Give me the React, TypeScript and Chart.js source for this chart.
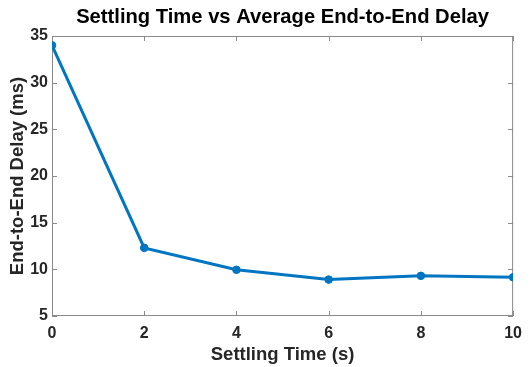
import React, { useEffect, useRef } from "react";
import { Chart, registerables } from "chart.js";

Chart.register(...registerables);

const settlingTimes = [0, 2, 4, 6, 8, 10];
const delays = [34.0, 12.3, 9.95, 8.9, 9.3, 9.15];
const xTicks = [0, 2, 4, 6, 8, 10];
const yTicks = [5, 10, 15, 20, 25, 30, 35];

const AXIS_COLOR = "#8a8a8a";
const TEXT_COLOR = "#262626";
const LINE_COLOR = "#0075C2";
const FONT = "'Liberation Sans', Arial, Helvetica, sans-serif";

const boxTicksPlugin = {
  id: "boxTicks",
  beforeDatasetsDraw(chart: any) {
    const { ctx, chartArea: a, scales } = chart;
    const xs = scales.x;
    const ys = scales.y;
    const len = 5;
    ctx.save();
    ctx.strokeStyle = AXIS_COLOR;
    ctx.lineWidth = 1;
    ctx.strokeRect(a.left + 0.5, a.top + 0.5, a.right - a.left - 1, a.bottom - a.top - 1);
    ctx.beginPath();
    xTicks.forEach((v) => {
      const px = Math.round(xs.getPixelForValue(v)) + 0.5;
      ctx.moveTo(px, a.bottom);
      ctx.lineTo(px, a.bottom - len);
      ctx.moveTo(px, a.top);
      ctx.lineTo(px, a.top + len);
    });
    yTicks.forEach((v) => {
      const py = Math.round(ys.getPixelForValue(v)) + 0.5;
      ctx.moveTo(a.left, py);
      ctx.lineTo(a.left + len, py);
      ctx.moveTo(a.right, py);
      ctx.lineTo(a.right - len, py);
    });
    ctx.stroke();
    ctx.restore();
  },
};

export default function App() {
  const ref = useRef<HTMLCanvasElement | null>(null);
  useEffect(() => {
    document.body.style.margin = "0";
    const canvas = ref.current;
    if (!canvas) return;
    const chart = new Chart(canvas, {
      type: "line",
      data: {
        datasets: [
          {
            data: settlingTimes.map((x, i) => ({ x, y: delays[i] })),
            borderColor: LINE_COLOR,
            backgroundColor: LINE_COLOR,
            borderWidth: 3,
            pointRadius: 3.8,
            pointStyle: "circle",
            pointBorderWidth: 1,
            tension: 0,
          },
        ],
      },
      options: {
        responsive: false,
        animation: false,
        layout: { padding: { top: 0, right: 16, left: 0, bottom: 0 } },
        plugins: {
          legend: { display: false },
          tooltip: { enabled: false },
          title: {
            display: true,
            fullSize: false,
            text: "Settling Time vs Average End-to-End Delay",
            color: "#000",
            font: { family: FONT, size: 20.2, weight: "bold", lineHeight: 1.2 },
            padding: { top: 5.5, bottom: 6.26 },
          },
        },
        scales: {
          x: {
            type: "linear",
            min: 0,
            max: 10,
            afterBuildTicks: (s: any) => {
              s.ticks = xTicks.map((v) => ({ value: v }));
            },
            afterFit: (s: any) => {
              s.height = 51;
            },
            grid: { display: false, drawTicks: false },
            border: { display: false },
            ticks: {
              color: TEXT_COLOR,
              padding: 8,
              maxRotation: 0,
              font: { family: FONT, size: 16, weight: "bold" },
            },
            title: {
              display: true,
              text: "Settling Time (s)",
              color: TEXT_COLOR,
              font: { family: FONT, size: 18.5, weight: "bold", lineHeight: 1.2 },
              padding: { top: 0, bottom: 1 },
            },
          },
          y: {
            type: "linear",
            min: 5,
            max: 35,
            afterBuildTicks: (s: any) => {
              s.ticks = yTicks.map((v) => ({ value: v }));
            },
            afterFit: (s: any) => {
              s.width = 52;
            },
            grid: { display: false, drawTicks: false },
            border: { display: false },
            ticks: {
              color: TEXT_COLOR,
              padding: 4,
              font: { family: FONT, size: 16, weight: "bold" },
            },
            title: {
              display: true,
              text: "End-to-End Delay (ms)",
              color: TEXT_COLOR,
              font: { family: FONT, size: 18.5, weight: "bold", lineHeight: 1.2 },
              padding: { top: 7, bottom: 0 },
            },
          },
        },
      },
      plugins: [boxTicksPlugin],
    });
    return () => chart.destroy();
  }, []);
  return (
    <div style={{ width: 530, height: 367, background: "#fff" }}>
      <canvas ref={ref} width={530} height={367} />
    </div>
  );
}
